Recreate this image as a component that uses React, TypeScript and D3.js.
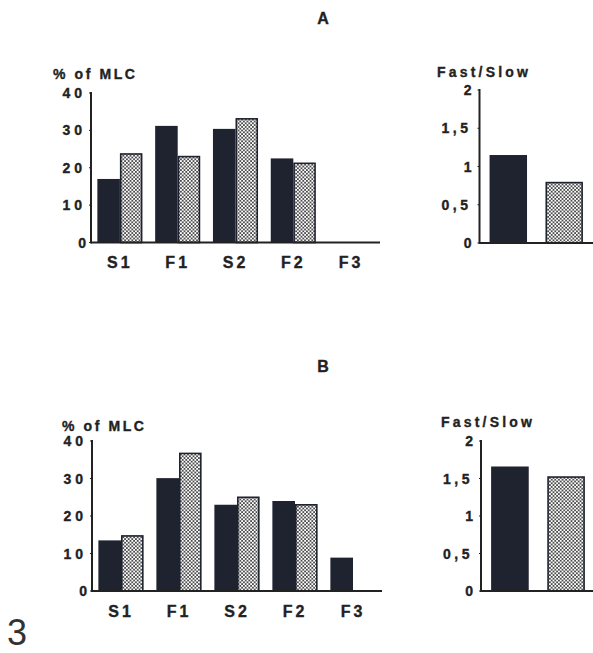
import React, { useEffect, useRef } from "react";
import * as d3 from "d3";

// categories and values
const categories = ["S1", "F1", "S2", "F2", "F3"];
const seriesKeys = ["dark", "dotted"];
const panelADark = [17, 31.2, 30.4, 22.5, 0];
const panelADotted = [23.9, 23.2, 33.3, 21.4, 0];
const panelBDark = [13.5, 30.1, 23, 24, 8.9];
const panelBDotted = [14.9, 36.9, 25.2, 23.2, 0];
const ratioA = [1.15, 0.8];
const ratioB = [1.66, 1.53];
const pctTicks = [0, 10, 20, 30, 40];
const ratioTicks = [0, 0.5, 1, 1.5, 2];
const ratioTickLabels = ["0", "0,5", "1", "1,5", "2"];

const FONT = "'Liberation Sans', Arial, Helvetica, sans-serif";
const INK = "#222";
const DARK = "#1f2330";

function App() {
    const svgRef = useRef<SVGSVGElement>(null);

    useEffect(() => {
        const svg = d3.select(svgRef.current);
        svg.selectAll("*").remove();

        // stipple pattern for the second series
        const defs = svg.append("defs");
        const pat = defs
            .append("pattern")
            .attr("id", "stipple")
            .attr("patternUnits", "userSpaceOnUse")
            .attr("width", 3.6)
            .attr("height", 3.6);
        pat.append("rect").attr("width", 3.6).attr("height", 3.6).attr("fill", "#fff");
        pat.append("circle").attr("cx", 0.9).attr("cy", 0.9).attr("r", 0.9).attr("fill", "#111");
        pat.append("circle").attr("cx", 2.7).attr("cy", 2.7).attr("r", 0.9).attr("fill", "#111");

        // heavy bold labels, like the scanned figure
        const boldText = (sel: any) =>
            sel
                .attr("font-family", FONT)
                .attr("font-weight", "bold")
                .attr("fill", INK)
                .attr("stroke", INK)
                .attr("stroke-width", 0.35);

        // left panel: % of MLC by fraction
        function drawPercent(x0: number, x1: number, y0: number, yTop: number, dark: number[], dotted: number[], titleX: number, titleY: number) {
            const x = d3.scaleBand().domain(categories).range([x0, x1]).paddingInner(0.22).paddingOuter(0.11);
            const xs = d3.scaleBand().domain(seriesKeys).range([0, x.bandwidth()]);
            const y = d3.scaleLinear().domain([0, 40]).range([y0, yTop]);
            const g = svg.append("g");

            const rows = categories.map((c, i) => ({ c, dark: dark[i], dotted: dotted[i] }));
            rows.forEach((r) => {
                if (r.dark > 0) {
                    g.append("rect")
                        .attr("x", x(r.c)! + xs("dark")!)
                        .attr("y", y(r.dark))
                        .attr("width", xs.bandwidth())
                        .attr("height", y0 - y(r.dark))
                        .attr("fill", DARK);
                }
                if (r.dotted > 0) {
                    g.append("rect")
                        .attr("x", x(r.c)! + xs("dotted")! + 0.8)
                        .attr("y", y(r.dotted) + 0.8)
                        .attr("width", xs.bandwidth() - 1.6)
                        .attr("height", y0 - y(r.dotted) - 0.8)
                        .attr("fill", "url(#stipple)")
                        .attr("stroke", DARK)
                        .attr("stroke-width", 1.6);
                }
            });

            // axes
            g.append("line").attr("x1", x0).attr("x2", x0).attr("y1", yTop - 1).attr("y2", y0 + 1)
                .attr("stroke", INK).attr("stroke-width", 2);
            g.append("line").attr("x1", x0).attr("x2", x1).attr("y1", y0).attr("y2", y0)
                .attr("stroke", INK).attr("stroke-width", 2);
            pctTicks.forEach((t) => {
                g.append("line").attr("x1", x0 - 2).attr("x2", x0).attr("y1", y(t)).attr("y2", y(t))
                    .attr("stroke", INK).attr("stroke-width", 1);
                boldText(g.append("text"))
                    .attr("x", x0 - 5)
                    .attr("y", y(t))
                    .attr("dy", "0.36em")
                    .attr("text-anchor", "end")
                    .attr("font-size", 14)
                    .attr("letter-spacing", t === 0 ? 0 : 4)
                    .text(String(t));
            });
            categories.forEach((c) => {
                boldText(g.append("text"))
                    .attr("x", x(c)! + x.bandwidth() / 2)
                    .attr("y", y0 + 25.5)
                    .attr("text-anchor", "middle")
                    .attr("font-size", 16)
                    .attr("letter-spacing", 3)
                    .text(c);
            });
            boldText(g.append("text"))
                .attr("x", titleX)
                .attr("y", titleY)
                .attr("font-size", 14)
                .attr("letter-spacing", 2.6)
                .text("% of MLC");
        }

        // right panel: fast/slow ratio
        function drawRatio(x0: number, x1: number, y0: number, yTop: number, vals: number[], titleX: number, titleY: number) {
            const x = d3.scaleBand().domain(seriesKeys).range([x0, x1]).paddingInner(0.33).paddingOuter(0.18);
            const y = d3.scaleLinear().domain([0, 2]).range([y0, yTop]);
            const g = svg.append("g");
            seriesKeys.forEach((k, i) => {
                const v = vals[i];
                if (k === "dark") {
                    g.append("rect")
                        .attr("x", x(k)!)
                        .attr("y", y(v))
                        .attr("width", x.bandwidth())
                        .attr("height", y0 - y(v))
                        .attr("fill", DARK);
                } else {
                    g.append("rect")
                        .attr("x", x(k)! + 0.8)
                        .attr("y", y(v) + 0.8)
                        .attr("width", x.bandwidth() - 1.6)
                        .attr("height", y0 - y(v) - 0.8)
                        .attr("fill", "url(#stipple)")
                        .attr("stroke", DARK)
                        .attr("stroke-width", 1.6);
                }
            });
            g.append("line").attr("x1", x0).attr("x2", x0).attr("y1", yTop - 1).attr("y2", y0 + 1)
                .attr("stroke", INK).attr("stroke-width", 2);
            g.append("line").attr("x1", x0).attr("x2", 593).attr("y1", y0).attr("y2", y0)
                .attr("stroke", INK).attr("stroke-width", 2);
            ratioTicks.forEach((t, i) => {
                g.append("line").attr("x1", x0 - 2).attr("x2", x0).attr("y1", y(t)).attr("y2", y(t))
                    .attr("stroke", INK).attr("stroke-width", 1);
                boldText(g.append("text"))
                    .attr("x", x0 - 8)
                    .attr("y", y(t))
                    .attr("dy", "0.36em")
                    .attr("text-anchor", "end")
                    .attr("font-size", 14)
                    .attr("letter-spacing", ratioTickLabels[i].length > 1 ? 3.5 : 0)
                    .text(ratioTickLabels[i]);
            });
            boldText(g.append("text"))
                .attr("x", titleX)
                .attr("y", titleY)
                .attr("font-size", 14)
                .attr("letter-spacing", 3.2)
                .text("Fast/Slow");
        }

        // panel titles
        boldText(svg.append("text")).attr("x", 323).attr("y", 24).attr("text-anchor", "middle")
            .attr("font-size", 16).text("A");
        boldText(svg.append("text")).attr("x", 323).attr("y", 372).attr("text-anchor", "middle")
            .attr("font-size", 16).text("B");

        drawPercent(91, 380, 242.5, 93, panelADark, panelADotted, 53, 79);
        drawRatio(479.5, 593, 243, 90, ratioA, 437, 76.5);
        drawPercent(92, 382, 591, 441, panelBDark, panelBDotted, 62, 430.5);
        drawRatio(481, 595, 591, 441, ratioB, 441, 427);

        // figure number
        svg.append("text")
            .attr("x", 7)
            .attr("y", 645)
            .attr("font-family", FONT)
            .attr("font-size", 36)
            .attr("fill", "#333")
            .text("3");
    }, []);

    return (
        <svg
            ref={svgRef}
            width={593}
            height={653}
            style={{ position: "absolute", left: 0, top: 0, background: "#fff" }}
        />
    );
}

export default App;
